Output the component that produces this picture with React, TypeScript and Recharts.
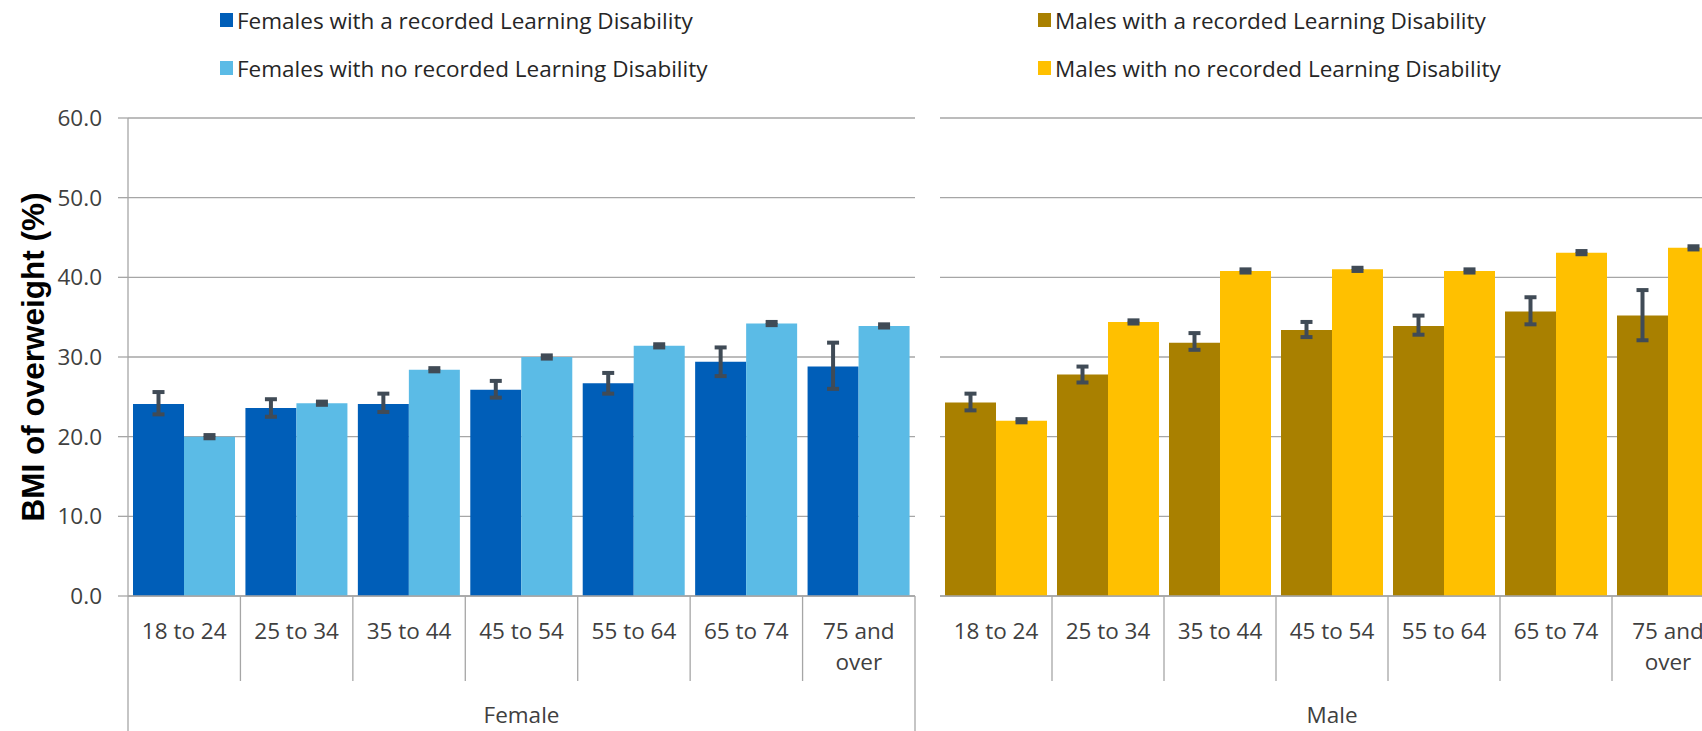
import React from 'react';
import { BarChart, Bar, XAxis, YAxis, CartesianGrid, ErrorBar, Legend, Label } from 'recharts';

// ---------- data ----------
const ageGroups = ['18 to 24', '25 to 34', '35 to 44', '45 to 54', '55 to 64', '65 to 74', '75 and over'];
const yTicks = [0, 10, 20, 30, 40, 50, 60];

const femaleLdName = 'Females with a recorded Learning Disability';
const femaleNoName = 'Females with no recorded Learning Disability';
const maleLdName = 'Males with a recorded Learning Disability';
const maleNoName = 'Males with no recorded Learning Disability';

const femaleLd = [24.1, 23.6, 24.1, 25.9, 26.7, 29.4, 28.8];
const femaleLdLow = [22.8, 22.5, 23.1, 24.9, 25.4, 27.6, 26.0];
const femaleLdHigh = [25.6, 24.7, 25.4, 27.0, 28.0, 31.2, 31.8];

const femaleNo = [20.0, 24.2, 28.4, 30.0, 31.4, 34.2, 33.9];
const femaleNoLow = [19.8, 24.0, 28.2, 29.8, 31.2, 34.0, 33.7];
const femaleNoHigh = [20.2, 24.4, 28.6, 30.2, 31.6, 34.4, 34.1];

const maleLd = [24.3, 27.8, 31.8, 33.4, 33.9, 35.7, 35.2];
const maleLdLow = [23.3, 26.8, 30.9, 32.5, 32.8, 34.1, 32.1];
const maleLdHigh = [25.4, 28.8, 33.0, 34.4, 35.2, 37.5, 38.4];

const maleNo = [22.0, 34.4, 40.8, 41.0, 40.8, 43.1, 43.7];
const maleNoLow = [21.8, 34.2, 40.6, 40.8, 40.6, 42.9, 43.5];
const maleNoHigh = [22.2, 34.6, 41.0, 41.2, 41.0, 43.3, 43.9];

// ---------- styling ----------
const FONT = '"Open Sans", "Noto Sans", sans-serif';
const FS = 22.5;
const GRID = '#A6A6A6';
const TEXT = '#404040';
const ERR = '#404B56';

function buildRows(ld: number[], ldLo: number[], ldHi: number[], no: number[], noLo: number[], noHi: number[]) {
  return ageGroups.map((age, i) => ({
    age,
    ld: ld[i],
    ldErr: [ld[i] - ldLo[i], ldHi[i] - ld[i]],
    no: no[i],
    noErr: [no[i] - noLo[i], noHi[i] - no[i]],
  }));
}

const femaleRows = buildRows(femaleLd, femaleLdLow, femaleLdHigh, femaleNo, femaleNoLow, femaleNoHigh);
const maleRows = buildRows(maleLd, maleLdLow, maleLdHigh, maleNo, maleNoLow, maleNoHigh);

function splitLabel(s: string): string[] {
  if (s.length <= 8) return [s];
  const k = s.lastIndexOf(' ');
  return [s.slice(0, k), s.slice(k + 1)];
}

const makeTick = (group: string, leftEdge: boolean, fallbackWidth: number) => (props: any) => {
  const { x, y, payload, index, visibleTicksCount, width } = props;
  const count = visibleTicksCount || ageGroups.length;
  const w = typeof width === 'number' && width > 0 ? width : fallbackWidth;
  const band = w / count;
  const lines = splitLabel(String(payload.value));
  const isLast = index === count - 1;
  return (
    <g>
      {lines.map((ln, k) => (
        <text key={k} x={x} y={y + 34 + k * 31} textAnchor="middle" dominantBaseline="central"
          fontFamily={FONT} fontSize={FS} fill={TEXT}>{ln}</text>
      ))}
      <line x1={x + band / 2} x2={x + band / 2} y1={y} y2={isLast ? y + 140 : y + 85} stroke={GRID} strokeWidth={1.3} />
      {index === 0 && leftEdge && (
        <line x1={x - band / 2} x2={x - band / 2} y1={y} y2={y + 140} stroke={GRID} strokeWidth={1.3} />
      )}
      {index === Math.floor(count / 2) && (
        <text x={x} y={y + 118} textAnchor="middle" dominantBaseline="central"
          fontFamily={FONT} fontSize={FS} fill={TEXT}>{group}</text>
      )}
    </g>
  );
};

const renderLegend = (props: any) => {
  const { payload } = props;
  return (
    <div style={{ fontFamily: FONT, fontSize: FS, color: '#262626', paddingTop: 6 }}>
      {(payload || []).map((p: any, i: number) => (
        <div key={i} style={{ display: 'flex', alignItems: 'center', height: 28, marginBottom: i === 0 ? 20 : 0, whiteSpace: 'nowrap' }}>
          <span style={{ display: 'inline-block', width: 13, height: 14, background: p.color, marginRight: 4 }} />
          <span>{p.value}</span>
        </div>
      ))}
    </div>
  );
};

const YTitle = (props: any) => {
  const vb = props.viewBox || { y: 118, height: 478 };
  const cy = vb.y + vb.height / 2;
  return (
    <text x={33} y={cy} transform={`rotate(-90, 33, ${cy})`} textAnchor="middle" dominantBaseline="central"
      fontFamily='"Liberation Sans", Arial, sans-serif' fontWeight="bold" fontSize={31.5} fill="#000">
      BMI of overweight (%)
    </text>
  );
};

export default function App() {
  return (
    <div style={{ position: 'fixed', left: 0, top: 0, width: 1702, height: 731, overflow: 'hidden', background: '#fff' }}>
      <div style={{ position: 'absolute', left: 0, top: 0 }}>
        <BarChart width={930} height={731} data={femaleRows} margin={{ top: 118, right: 15, left: 0, bottom: 0 }}
          barCategoryGap={5} barGap={0}>
          <CartesianGrid horizontal vertical={false} stroke={GRID} strokeWidth={1.3} />
          <XAxis dataKey="age" height={135} interval={0} tickSize={0} tickMargin={0} tickLine={false}
            axisLine={{ stroke: GRID, strokeWidth: 1.3 }} tick={makeTick('Female', true, 787)} />
          <YAxis width={128} domain={[0, 60]} ticks={yTicks} interval={0} tickSize={10} tickMargin={16}
            tickFormatter={(v: number) => v.toFixed(1)}
            tick={{ fontFamily: FONT, fontSize: FS, fill: TEXT }}
            axisLine={{ stroke: GRID, strokeWidth: 1.3 }} tickLine={{ stroke: GRID, strokeWidth: 1.3 }}>
            <Label content={YTitle} />
          </YAxis>
          <Legend layout="vertical" align="center" verticalAlign="middle" content={renderLegend}
            wrapperStyle={{ top: 0, left: 220, width: 600, height: 100 }} />
          <Bar dataKey="ld" name={femaleLdName} fill="#005EB8" isAnimationActive={false}>
            <ErrorBar dataKey="ldErr" width={6} strokeWidth={4} stroke={ERR} direction="y" />
          </Bar>
          <Bar dataKey="no" name={femaleNoName} fill="#5BBBE6" isAnimationActive={false}>
            <ErrorBar dataKey="noErr" width={6} strokeWidth={4} stroke={ERR} direction="y" />
          </Bar>
        </BarChart>
      </div>
      <div style={{ position: 'absolute', left: 930, top: 0 }}>
        <BarChart width={800} height={731} data={maleRows} margin={{ top: 118, right: 6, left: 10, bottom: 0 }}
          barCategoryGap={5} barGap={0}>
          <CartesianGrid horizontal vertical={false} stroke={GRID} strokeWidth={1.3} />
          <XAxis dataKey="age" height={135} interval={0} tickSize={0} tickMargin={0} tickLine={false}
            axisLine={{ stroke: GRID, strokeWidth: 1.3 }} tick={makeTick('Male', false, 784)} />
          <YAxis hide domain={[0, 60]} ticks={yTicks} />
          <Legend layout="vertical" align="center" verticalAlign="middle" content={renderLegend}
            wrapperStyle={{ top: 0, left: 108, width: 600, height: 100 }} />
          <Bar dataKey="ld" name={maleLdName} fill="#A98000" isAnimationActive={false}>
            <ErrorBar dataKey="ldErr" width={6} strokeWidth={4} stroke={ERR} direction="y" />
          </Bar>
          <Bar dataKey="no" name={maleNoName} fill="#FFC000" isAnimationActive={false}>
            <ErrorBar dataKey="noErr" width={6} strokeWidth={4} stroke={ERR} direction="y" />
          </Bar>
        </BarChart>
      </div>
    </div>
  );
}
